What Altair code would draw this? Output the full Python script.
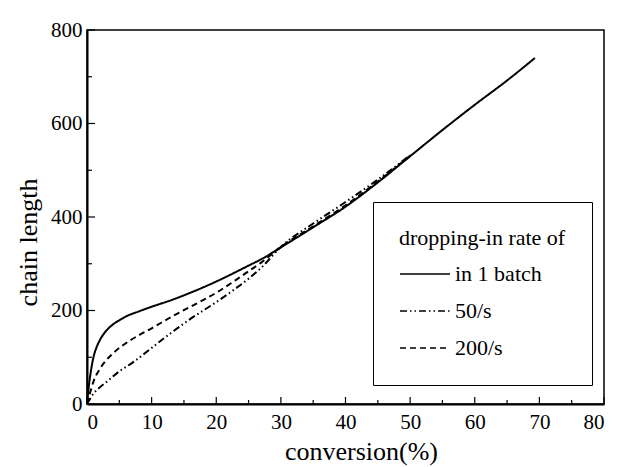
import altair as alt
import pandas as pd

series_names = ["in 1 batch", "50/s", "200/s"]

batch_x = [0, 0.3, 0.6, 1.0, 1.5, 2.0, 3.0, 4.0, 5.0, 6.0, 8.0, 10.0, 13.0, 16.0, 20.0,
           25.0, 27.0, 30.0, 35.0, 40.0, 45.0, 50.0, 55.0, 60.0, 65.0, 69.3]
batch_y = [0, 40, 70, 100, 122, 137, 157, 170, 179, 187, 198, 208, 222, 238, 262,
           296, 310, 335, 378, 422, 474, 530, 586, 640, 692, 740]

rate50_x = [0, 1, 2, 3, 5, 7, 10, 13, 16, 20, 23, 25, 27, 30, 35, 40, 45, 50]
rate50_y = [0, 22, 36, 47, 70, 88, 120, 152, 182, 218, 247, 268, 292, 336, 386, 432, 480, 532]

rate200_x = [0, 0.5, 1, 2, 3, 4, 5, 6, 8, 10, 13, 16, 20, 23, 25, 27, 30, 35, 40, 45, 50]
rate200_y = [0, 25, 48, 75, 94, 108, 120, 130, 147, 162, 186, 208, 238, 265, 284, 303, 336, 380, 425, 476, 531]

x_major = [0, 10, 20, 30, 40, 50, 60, 70, 80]
x_minor = [5, 15, 25, 35, 45, 55, 65, 75]
y_major = [0, 200, 400, 600, 800]
y_minor = [100, 300, 500, 700]

rows = []
for name, xs, ys in [(series_names[0], batch_x, batch_y),
                     (series_names[1], rate50_x, rate50_y),
                     (series_names[2], rate200_x, rate200_y)]:
    for a, b in zip(xs, ys):
        rows.append({"series": name, "conversion": a, "chain": b})
df = pd.DataFrame(rows)

FONT = "Liberation Serif"
W, H = 517, 374

xscale = alt.Scale(domain=[0, 80], nice=False, zero=False)
yscale = alt.Scale(domain=[0, 800], nice=False, zero=False)

lines = alt.Chart(df).mark_line(color="black", strokeWidth=2, interpolate="monotone").encode(
    x=alt.X("conversion:Q", scale=xscale,
            axis=alt.Axis(title="conversion(%)", values=x_major, ticks=False, grid=False,
                          labelPadding=7, titleX=274, titleY=47, titleBaseline="middle",
                          titleAlign="center")),
    y=alt.Y("chain:Q", scale=yscale,
            axis=alt.Axis(title="chain length", values=y_major, ticks=False, grid=False,
                          labelPadding=5, titleX=-59, titleY=212, titleBaseline="middle",
                          titleAlign="center", titleAngle=270)),
    strokeDash=alt.StrokeDash(
        "series:N",
        scale=alt.Scale(domain=series_names,
                        range=[[1, 0], [7, 3, 1.5, 3, 1.5, 3], [6, 4]]),
        legend=alt.Legend(title="dropping-in rate of", orient="none", legendX=286, legendY=172,
                          strokeColor="black", padding=26, symbolType="stroke",
                          symbolSize=2500, symbolStrokeWidth=1.6, symbolStrokeColor="black",
                          clipHeight=22, rowPadding=15, titlePadding=13, labelOffset=4,
                          titleFont=FONT, titleFontSize=22, titleFontWeight="normal",
                          titleColor="black", labelFont=FONT, labelFontSize=22,
                          labelColor="black"),
    ),
    detail="series:N",
)

xt_major = alt.Chart(pd.DataFrame({"v": x_major})).mark_rule(color="black", strokeWidth=1.2).encode(
    x=alt.X("v:Q", scale=xscale), y=alt.value(H), y2=alt.value(H - 7))
xt_minor = alt.Chart(pd.DataFrame({"v": x_minor})).mark_rule(color="black", strokeWidth=1.2).encode(
    x=alt.X("v:Q", scale=xscale), y=alt.value(H), y2=alt.value(H - 4))
yt_major = alt.Chart(pd.DataFrame({"v": y_major})).mark_rule(color="black", strokeWidth=1.2).encode(
    y=alt.Y("v:Q", scale=yscale), x=alt.value(0), x2=alt.value(8))
yt_minor = alt.Chart(pd.DataFrame({"v": y_minor})).mark_rule(color="black", strokeWidth=1.2).encode(
    y=alt.Y("v:Q", scale=yscale), x=alt.value(0), x2=alt.value(5))

chart = alt.layer(lines, xt_major, xt_minor, yt_major, yt_minor).properties(
    width=W, height=H,
    padding={"left": 79, "top": 22, "right": 6, "bottom": 63},
    autosize="none",
).configure_view(
    stroke="black", strokeWidth=1.5
).configure_axis(
    labelFont=FONT, labelFontSize=21, labelColor="black",
    titleFont=FONT, titleFontSize=26, titleFontWeight="normal", titleColor="black",
    domainColor="black", domainWidth=2,
)

chart.save("out.html", embed_options={"renderer": "svg", "actions": False})
